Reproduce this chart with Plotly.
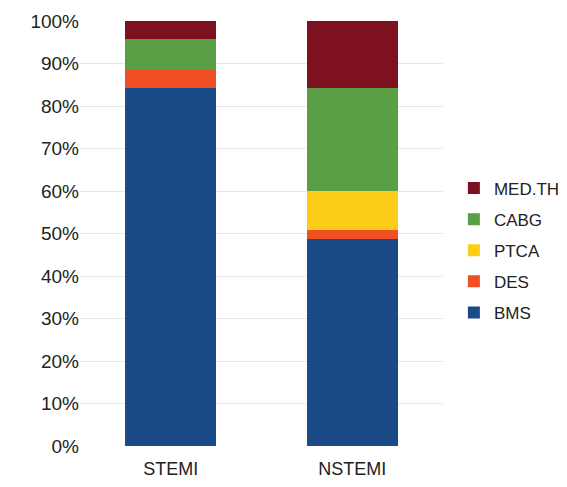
import plotly.graph_objects as go

categories = ["STEMI", "NSTEMI"]
series_names = ["BMS", "DES", "PTCA", "CABG", "MED.TH"]
bms = [84.3, 48.6]
des = [4.1, 2.3]
ptca = [0.0, 9.1]
cabg = [7.3, 24.3]
medth = [4.3, 15.7]
colors = ["#1a4a87", "#f04e23", "#fdcd1a", "#5a9e46", "#7e1120"]

fig = go.Figure()
n = len(series_names)
for i, (name, vals, col) in enumerate(zip(series_names, [bms, des, ptca, cabg, medth], colors)):
    fig.add_trace(go.Bar(x=categories, y=vals, name=name, marker_color=col,
                         marker_line_width=0, legendgroup=name, legendrank=n - i))

fig.update_layout(
    barmode="stack",
    bargap=0.5,
    width=567, height=487,
    margin=dict(l=80, r=124, t=21, b=41, autoexpand=False),
    plot_bgcolor="white", paper_bgcolor="white",
    font=dict(family="Liberation Sans, Arial, sans-serif", size=18, color="#222"),
    legend=dict(traceorder="grouped", x=1.03, y=0.46, yanchor="middle",
                xanchor="left", font=dict(size=17), tracegroupgap=6,
                itemwidth=30),
    showlegend=True,
)
fig.update_yaxes(range=[0, 100], dtick=10, ticksuffix="%", gridcolor="#e6e6e6",
                 zeroline=False, showline=False, ticks="", tickfont=dict(size=19))
fig.update_xaxes(showline=False, ticks="", tickfont=dict(size=18),
                 showgrid=False, mirror=False, ticklabelstandoff=10)
fig.write_html("out.html")
